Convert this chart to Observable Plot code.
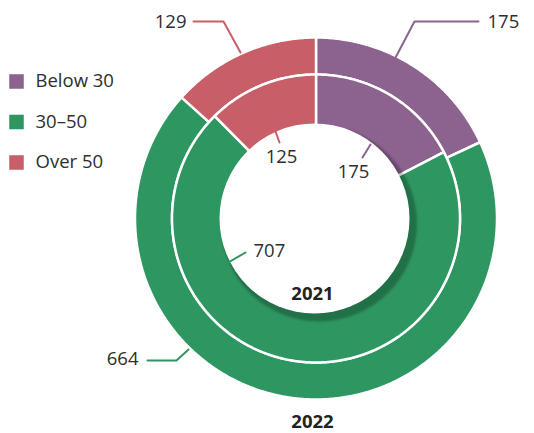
<!DOCTYPE html>
<html><head><meta charset="utf-8">
<script src="https://cdn.jsdelivr.net/npm/d3@7"></script>
<script src="https://cdn.jsdelivr.net/npm/@observablehq/plot@0.6"></script>
<style>body{margin:0;background:#fff}#chart{width:534px;height:433px}</style>
</head><body><div id="chart"></div>
<script>
// ---- data ----
const categories = ["Below 30", "30–50", "Over 50"];
const colors = ["#8c628f", "#2e9660", "#c85f68"];
const years = ["2021", "2022"];
const values2021 = [175, 707, 125];
const values2022 = [175, 664, 129];

// ---- layout ----
const W = 534, H = 433, cx = 315.5, cy = 218;
const ringRadii = {"2022": [144, 181], "2021": [88, 144]};
const holeR = 95;

function polar(r, a) { // a in degrees clockwise from 12 o'clock
  const t = a * Math.PI / 180;
  return {x: cx + r * Math.sin(t), y: cy - r * Math.cos(t)};
}
const pts = [];
function addRing(year, values) {
  const total = d3.sum(values);
  const [r0, r1] = ringRadii[year];
  let acc = 0;
  values.forEach((v, i) => {
    const a0 = acc / total * 360, a1 = (acc + v) / total * 360;
    acc += v;
    const n = Math.max(2, Math.ceil((a1 - a0) / 0.5));
    const seg = year + "-" + i;
    for (let k = 0; k <= n; k++) pts.push({seg, cat: categories[i], ...polar(r1, a0 + (a1 - a0) * k / n)});
    for (let k = n; k >= 0; k--) pts.push({seg, cat: categories[i], ...polar(r0, a0 + (a1 - a0) * k / n)});
  });
}
addRing("2022", values2022);
addRing("2021", values2021);

// annotation placement (leader paths + label anchors), values from the data arrays
const ann = [
  {id: "o0", cat: 0, v: values2022[0], path: [[394, 59], [414, 21], [478, 21]], tx: 487, ty: 22, anchor: "start"},
  {id: "o2", cat: 2, v: values2022[2], path: [[240, 52], [223, 21], [193, 21]], tx: 186, ty: 22, anchor: "end"},
  {id: "o1", cat: 1, v: values2022[1], path: [[188, 349], [176, 360], [147, 360]], tx: 138, ty: 359, anchor: "end"},
  {id: "i2", cat: 2, v: values2021[2], path: [[279, 142], [274, 128]], tx: 281, ty: 157, anchor: "middle"},
  {id: "i0", cat: 0, v: values2021[0], path: [[362, 157], [370, 144]], tx: 353, ty: 172, anchor: "middle"},
  {id: "i1", cat: 1, v: values2021[1], path: [[245, 252], [226, 263]], tx: 253, ty: 251, anchor: "start"}
];
const leaderPts = ann.flatMap(a => a.path.map(([x, y]) => ({id: a.id, cat: categories[a.cat], x, y})));
const yearLabels = [{t: years[0], x: 312, y: 294}, {t: years[1], x: 312, y: 422}];
const legend = categories.map((c, i) => ({c, x: 16, y: 81 + i * 40.5}));

const annText = anchor => Plot.text(ann.filter(d => d.anchor === anchor),
  {x: "tx", y: "ty", text: d => String(d.v), textAnchor: anchor, fill: "#2e2e2e", fontSize: 18.5});

const chart = Plot.plot({
  width: W, height: H, margin: 0,
  x: {domain: [0, W], range: [0, W], axis: null},
  y: {domain: [0, H], range: [0, H], axis: null},
  color: {domain: categories, range: colors},
  style: {fontFamily: "'Open Sans', sans-serif", fontSize: "18px", background: "#fff"},
  marks: [
    Plot.line(pts, {x: "x", y: "y", z: "seg", fill: "cat", stroke: "white", strokeWidth: 2.5, curve: "linear-closed"}),
    Plot.dot([{x: cx + 3, y: cy + 5}], {x: "x", y: "y", r: holeR + 3, fill: "#000", fillOpacity: 0.25, stroke: null, imageFilter: "blur(0.8px)"}),
    Plot.dot([{x: cx - 1.5, y: cy}], {x: "x", y: "y", r: holeR, fill: "#fff", stroke: null}),
    Plot.line(leaderPts, {x: "x", y: "y", z: "id", stroke: "cat", strokeWidth: 2}),
    annText("start"), annText("end"), annText("middle"),
    Plot.text(yearLabels, {x: "x", y: "y", text: "t", fill: "#222", fontWeight: "bold", fontSize: 18.5}),
    Plot.dot(legend, {x: "x", y: "y", symbol: "square", r: 8.2, fill: "c", stroke: null}),
    Plot.text(legend, {x: d => d.x + 19, y: "y", text: "c", textAnchor: "start", fill: "#2e2e2e", fontSize: 18.5})
  ]
});
document.getElementById("chart").append(chart);
</script></body></html>
